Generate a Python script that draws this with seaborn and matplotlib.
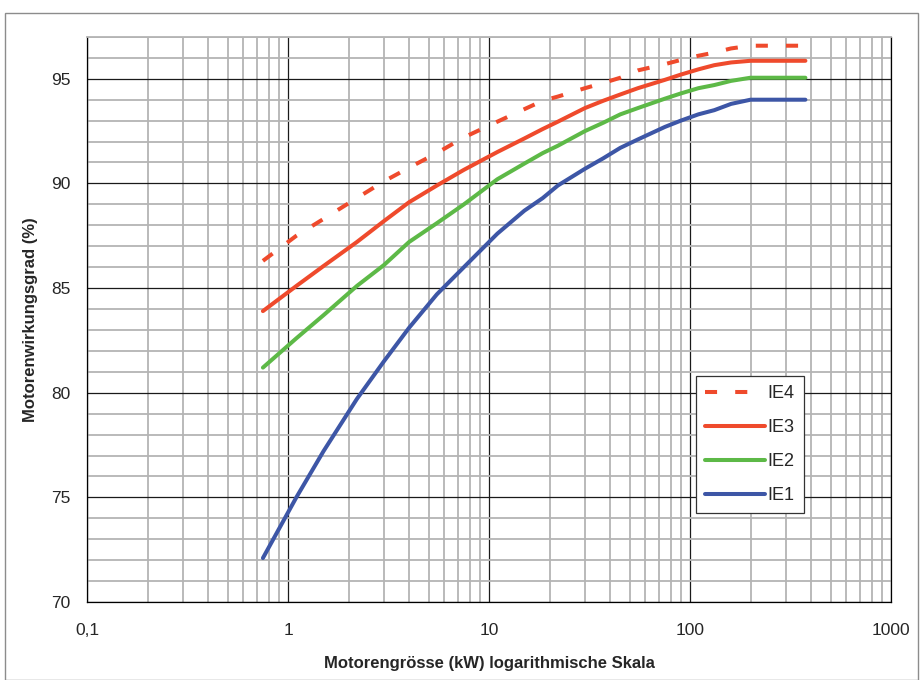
import numpy as np
import pandas as pd
import matplotlib
matplotlib.use("Agg")
import matplotlib.pyplot as plt
import seaborn as sns
from matplotlib.ticker import LogLocator, MultipleLocator, FixedLocator, NullFormatter
from matplotlib.patches import Rectangle

# motor sizes (kW) and efficiency per class (%)
power_kw = [0.75, 1.1, 1.5, 2.2, 3, 4, 5.5, 7.5, 11, 15, 18.5, 22, 30, 37, 45,
            55, 75, 90, 110, 132, 160, 200, 250, 315, 355, 375]
ie1 = [72.1, 75.0, 77.2, 79.7, 81.5, 83.1, 84.7, 86.0, 87.6, 88.7, 89.3, 89.9, 90.7,
       91.2, 91.7, 92.1, 92.7, 93.0, 93.3, 93.5, 93.8, 94.0, 94.0, 94.0, 94.0, 94.0]
ie2 = [81.2, 82.6, 83.7, 85.1, 86.1, 87.2, 88.1, 89.0, 90.2, 90.95, 91.45, 91.8, 92.5,
       92.9, 93.3, 93.6, 94.05, 94.3, 94.55, 94.7, 94.9, 95.05, 95.05, 95.05, 95.05, 95.05]
ie3 = [83.9, 85.1, 86.05, 87.2, 88.2, 89.1, 89.9, 90.65, 91.5, 92.15, 92.6, 92.95, 93.6,
       93.95, 94.25, 94.55, 94.95, 95.2, 95.45, 95.65, 95.78, 95.86, 95.86, 95.86, 95.86, 95.86]
ie4 = [86.3, 87.5, 88.3, 89.3, 90.1, 90.75, 91.45, 92.2, 92.95, 93.55, 93.95, 94.15, 94.55,
       94.8, 95.05, 95.4, 95.7, 95.9, 96.1, 96.25, 96.45, 96.58, 96.58, 96.58, 96.58, 96.58]

classes = ["IE4", "IE3", "IE2", "IE1"]
x_ticks = [0.1, 1, 10, 100, 1000]
x_tick_labels = ["0,1", "1", "10", "100", "1000"]
y_ticks = [70, 75, 80, 85, 90, 95]

colors = {"IE4": "#EF4A2C", "IE3": "#EF4A2C", "IE2": "#5DB947", "IE1": "#3D56A6"}
dash_map = {"IE4": (3, 4.5), "IE3": "", "IE2": "", "IE1": ""}

df = pd.concat([
    pd.DataFrame({"kW": power_kw, "eff": vals, "Klasse": name})
    for name, vals in zip(classes, [ie4, ie3, ie2, ie1])
])

sns.set_style("white")
plt.rcParams["font.family"] = ["Liberation Sans", "DejaVu Sans"]

fig = plt.figure(figsize=(9.22, 6.8), dpi=100)
ax = fig.add_axes([0.0944, 0.1147, 0.872, 0.831])

sns.lineplot(data=df, x="kW", y="eff", hue="Klasse", style="Klasse",
             hue_order=classes, style_order=classes, palette=colors,
             dashes=dash_map, linewidth=2.9, errorbar=None, ax=ax)

ax.set_xscale("log")
ax.set_xlim(0.1, 1000)
ax.set_ylim(70, 97)
ax.xaxis.set_major_locator(FixedLocator(x_ticks))
ax.set_xticklabels(x_tick_labels)
ax.xaxis.set_minor_locator(LogLocator(base=10, subs=range(2, 10)))
ax.xaxis.set_minor_formatter(NullFormatter())
ax.set_yticks(y_ticks)
ax.yaxis.set_minor_locator(MultipleLocator(1))

ax.set_axisbelow(True)
ax.grid(which="minor", color="#b4b4b4", linewidth=1.3)
ax.grid(which="major", color="#1a1a1a", linewidth=0.9)
ax.tick_params(which="major", direction="out", length=5, width=0.9,
               color="black", labelsize=12.5, pad=10)
ax.tick_params(axis="y", which="major", pad=7)
ax.tick_params(which="minor", length=0)

for side in ["left", "bottom", "right"]:
    ax.spines[side].set_color("black")
    ax.spines[side].set_linewidth(0.9)
ax.spines["top"].set_color("#b4b4b4")
ax.spines["top"].set_linewidth(1.3)

ax.set_xlabel("Motorengrösse (kW) logarithmische Skala", fontsize=12,
              fontweight="bold", labelpad=13)
ax.set_ylabel("Motorenwirkungsgrad (%)", fontsize=12, fontweight="bold", labelpad=9)

handles, labels = ax.get_legend_handles_labels()
leg = ax.legend(handles, labels, loc="upper left", bbox_to_anchor=(0.758, 0.4),
                frameon=True, fancybox=False, framealpha=1, edgecolor="#333333",
                fontsize=13, handlelength=3.3, labelspacing=0.95,
                borderpad=0.5, handletextpad=0.15, borderaxespad=0)
leg.get_frame().set_linewidth(0.9)

# outer border of the chart
fig.patches.append(Rectangle((5 / 922, 0.0), 913 / 922, 667 / 680,
                             transform=fig.transFigure, fill=False,
                             edgecolor="#8c8c8c", linewidth=1))

fig.savefig("out.png", dpi=100)
